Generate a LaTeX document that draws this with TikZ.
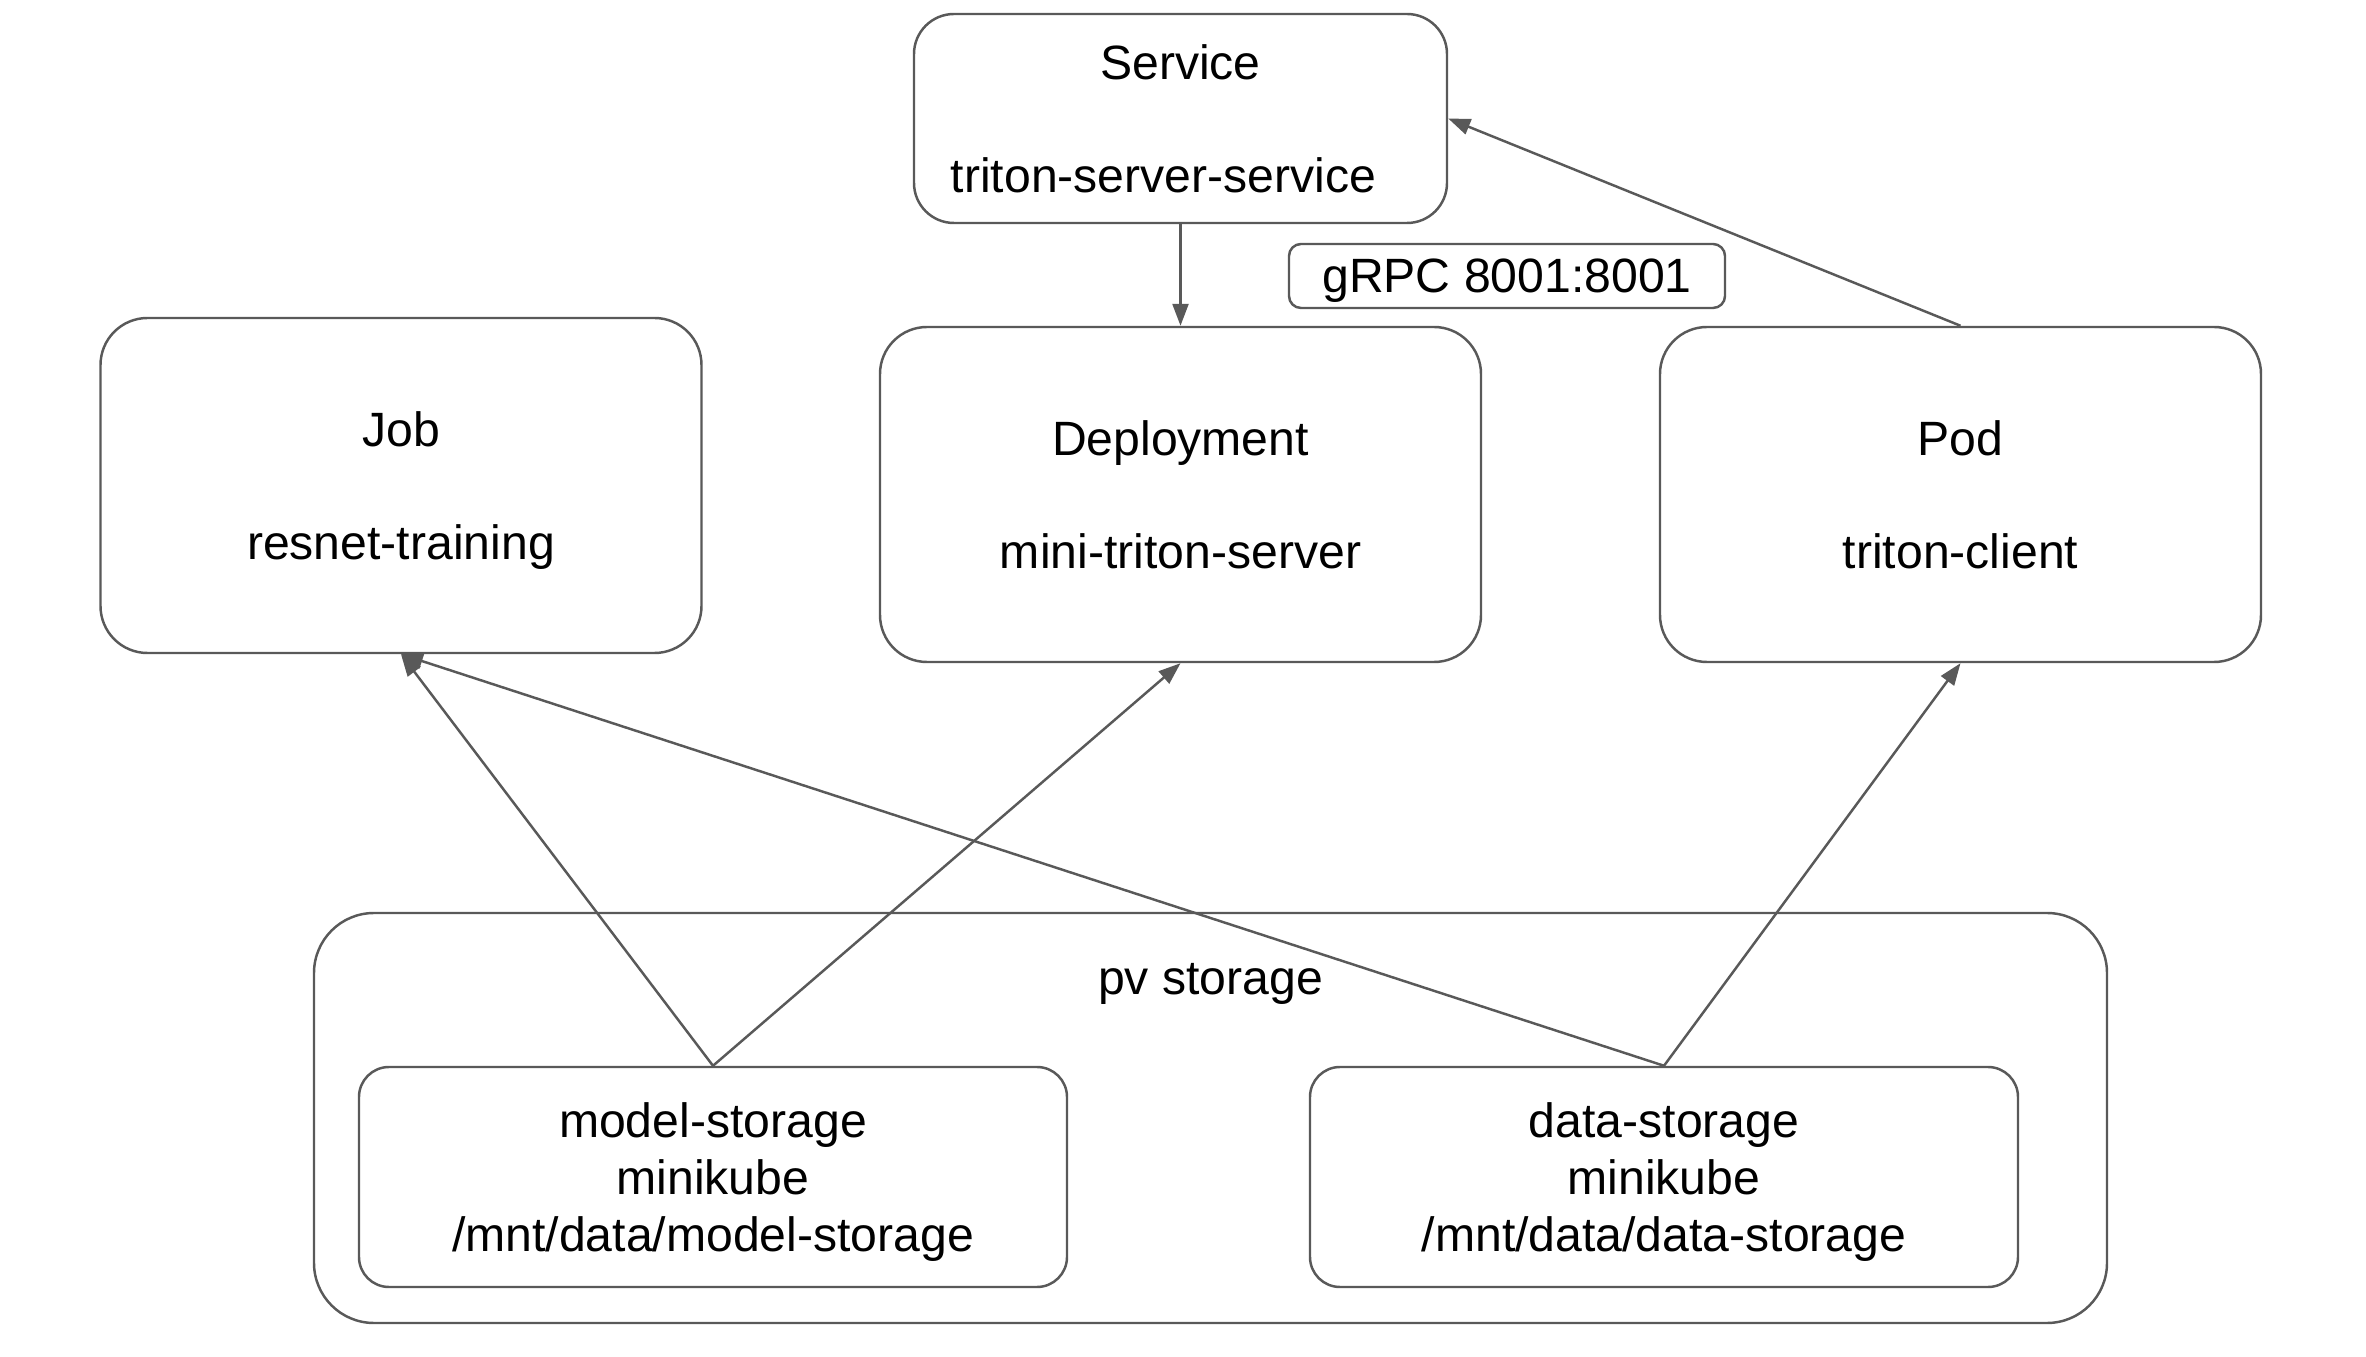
\documentclass[tikz,border=0pt]{standalone}
\usepackage{fontspec}
\setmainfont{Liberation Sans}
\usetikzlibrary{arrows.meta,positioning}
\definecolor{edgegray}{RGB}{89,89,89}

\begin{document}
\begin{tikzpicture}[
    every node/.style={font=\fontsize{13.7pt}{16.3pt}\selectfont, align=center, text depth=0pt},
    kbox/.style={draw=edgegray, line width=0.7pt, rounded corners=0.47cm,
        minimum width=6.01cm, minimum height=3.35cm, inner sep=0pt},
    volbox/.style={draw=edgegray, line width=0.7pt, rounded corners=0.3cm,
        minimum width=7.08cm, minimum height=2.2cm, inner sep=0pt},
    link/.style={draw=edgegray, line width=0.7pt, -{Triangle[length=0.22cm,width=0.16cm]}}
]
    \fill[white] (0,0) rectangle (23.66,13.56);
    \useasboundingbox (0,0) rectangle (23.66,13.56);

    % top row
    \node[kbox, rounded corners=0.4cm, minimum width=5.33cm, minimum height=2.09cm] (service) at (11.805,12.375) {Service\\[16pt]triton-server-service\hspace*{0.34cm}};
    \node[draw=edgegray, line width=0.7pt, rounded corners=0.12cm, minimum width=4.36cm, minimum height=0.64cm, inner sep=0pt] (grpc) at (15.07,10.80) {gRPC 8001:8001};

    % workloads
    \node[kbox] (job) at (4.01,8.705) {Job\\[16pt]resnet-training};
    \node[kbox] (deploy) at (11.805,8.615) {Deployment\\[16pt]mini-triton-server};
    \node[kbox] (pod) at (19.605,8.615) {Pod\\[16pt]triton-client};

    % storage
    \node[draw=edgegray, line width=0.7pt, rounded corners=0.6cm, minimum width=17.93cm, minimum height=4.10cm, inner sep=0pt] (pv) at (12.105,2.38) {};
    \node (pvlabel) at ([yshift=-0.67cm]pv.north) {pv storage};
    \node[volbox] (model) at (7.13,1.79) {model-storage\\minikube\\/mnt/data/model-storage};
    \node[volbox] (data) at (16.64,1.79) {data-storage\\minikube\\/mnt/data/data-storage};

    \draw[link] (service.south) -- (deploy.north);
    \draw[link] (pod.north) -- (service.east);
    \draw[link] (model.north) -- (job.south);
    \draw[link] (model.north) -- (deploy.south);
    \draw[link] (data.north) -- (job.south);
    \draw[link] (data.north) -- (pod.south);
\end{tikzpicture}
\end{document}
